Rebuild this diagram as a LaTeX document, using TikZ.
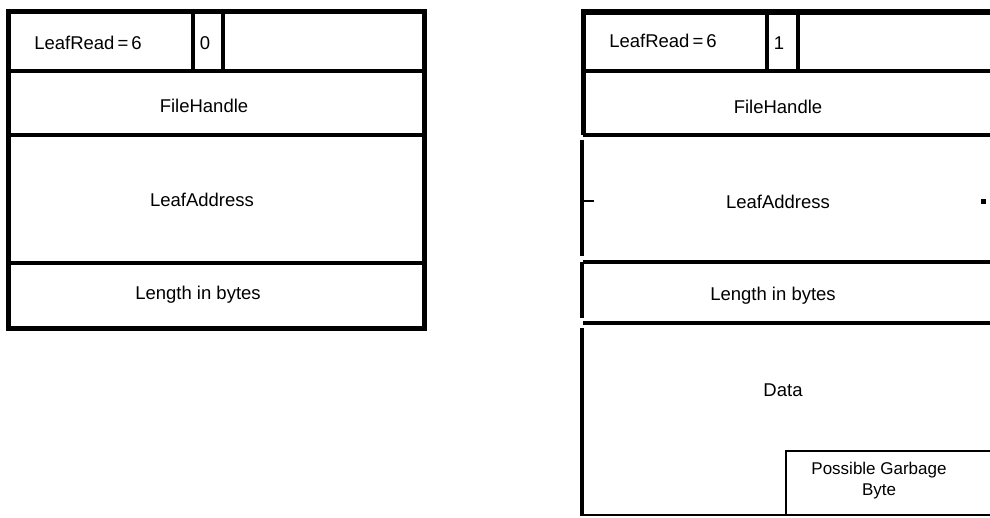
\documentclass[tikz,border=0pt]{standalone}
\usepackage{fontspec}
\setmainfont{Liberation Sans}

\begin{document}
\begin{tikzpicture}[x=1pt,y=-1pt,
  every node/.style={font=\fontsize{18.5}{23}\selectfont},
  rowline/.style={line width=3.5pt},
  thinline/.style={line width=2pt}]
\useasboundingbox (0,0) rectangle (990,517);

% left frame: LeafRead request
\def\xa{8}
\def\xb{424}
\draw[line width=5pt] (\xa,11) rectangle (\xb,328);
\foreach \y in {71,135,263}
  \draw[rowline] (\xa,\y) -- (\xb,\y);
\draw[rowline] (193,11) -- (193,71);
\draw[rowline] (223,11) -- (223,71);

\node (lrA) at (88,43) {LeafRead\,=\,6};
\node (flagA) at (205,43) {0};
\node (fhA) at (204,106) {FileHandle};
\node (laA) at (202,200) {LeafAddress};
\node (lenA) at (198,295) {Length in bytes};

% right frame: LeafRead reply, cut off at the right
\def\xc{583}
\def\xd{990}
\draw[line width=6pt] (\xc,12) -- (\xd,12);
\draw[line width=5pt] (\xc,9) -- (\xc,135);
\draw[line width=4pt] (582,140) -- (582,256);
\draw[line width=4pt] (582,262) -- (582,318);
\draw[line width=4pt] (582,328) -- (582,516);
\foreach \y in {71,135,262,323}
  \draw[rowline] (\xc,\y) -- (\xd,\y);
\draw[thinline] (582,515) -- (\xd,515);
\draw[rowline] (767,12) -- (767,71);
\draw[rowline] (798,12) -- (798,71);
\draw[thinline] (583,201) -- (594,201);
\fill (980.5,198.5) rectangle (985.5,203.5);

% garbage byte corner
\draw[thinline] (786,515) -- (786,451) -- (\xd,451);

\node (lrB) at (663,41) {LeafRead\,=\,6};
\node (flagB) at (779,43) {1};
\node (fhB) at (778,107) {FileHandle};
\node (laB) at (778,202) {LeafAddress};
\node (lenB) at (773,296) {Length in bytes};
\node (dataB) at (783,390) {Data};
\node[align=center, font=\fontsize{17}{21}\selectfont] (garbB) at (879,481) {Possible Garbage\\Byte};
\end{tikzpicture}
\end{document}
